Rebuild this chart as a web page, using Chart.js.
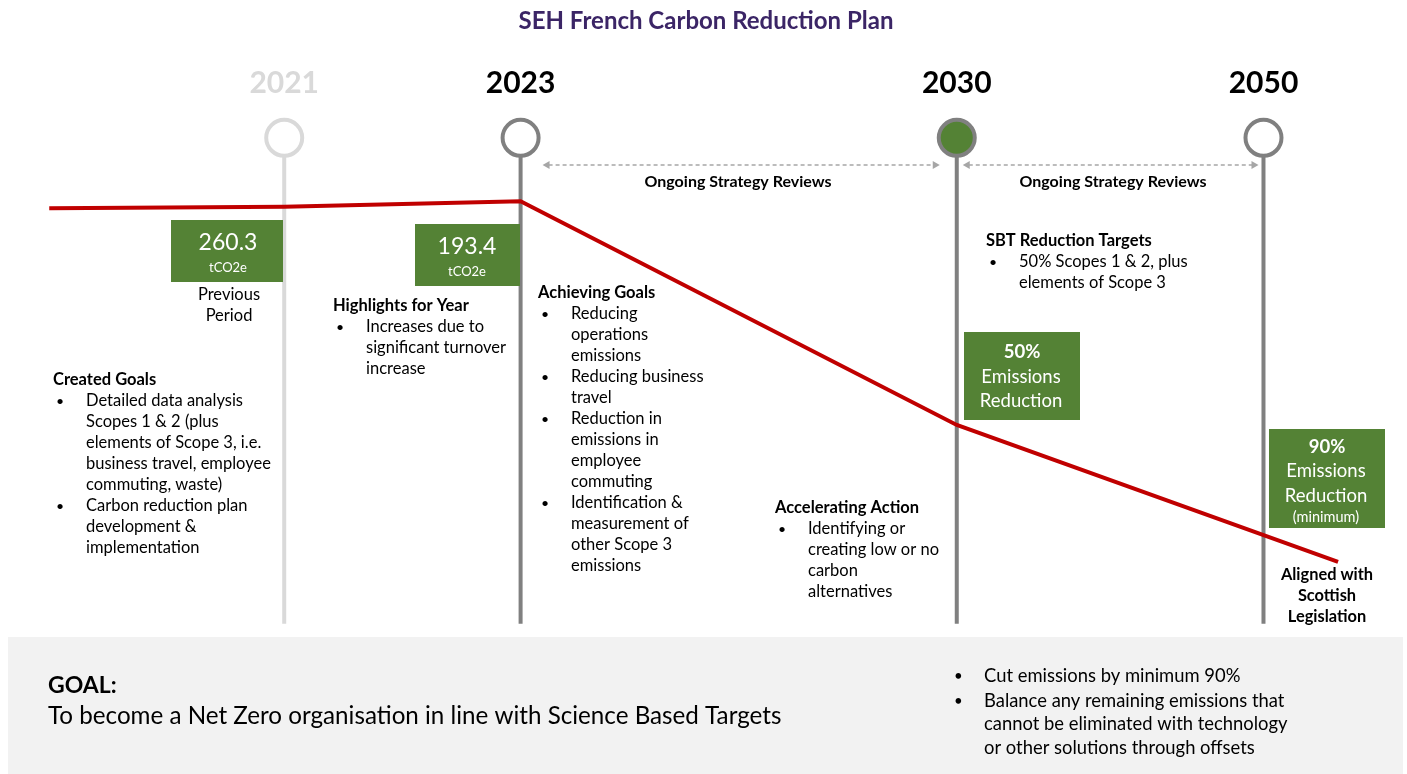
<!DOCTYPE html>
<html>
<head>
<meta charset="utf-8">
<title>SEH French Carbon Reduction Plan</title>
<script src="https://cdn.jsdelivr.net/npm/chart.js@4.4.0/dist/chart.umd.min.js"></script>
<style>
    html, body { margin: 0; padding: 0; background: #fff; overflow: hidden; }
    canvas { display: block; }
</style>
</head>
<body>
<canvas id="planChart" width="1407" height="774"></canvas>
<script>
// Milestones along the timeline (x = position on a 0-100 timeline scale)
const years = ['2021', '2023', '2030', '2050'];
const yearPos = [20.2, 37.0, 68.0, 89.8];
const yearLabelColor = ['#d9d9d9', '#000000', '#000000', '#000000'];
const yearLineColor = ['#d9d9d9', '#808080', '#808080', '#808080'];
const yearFill = ['#ffffff', '#ffffff', '#548235', '#ffffff'];
const markerLevel = 82.2;   // where the milestone circles sit
const stemBottom = 19.4;    // where the milestone stems end

// Emissions path (relative index)
const pathPos = [3.5, 20.2, 37.0, 68.0, 95.1];
const pathLevel = [73.1, 73.3, 74.0, 45.1, 27.4];

// Emission figures
const emissionValues = ['260.3', '193.4'];
const emissionUnit = 'tCO2e';
const reductionTargets = ['50%', '90%'];

const FONT = 'Lato, "Open Sans", sans-serif';
const BODY = 16.5;

function txt(ctx, s, x, y, size, opts = {}) {
    ctx.font = (opts.bold ? 'bold ' : '') + size + 'px ' + FONT;
    ctx.fillStyle = opts.color || '#000';
    ctx.textAlign = opts.align || 'left';
    ctx.textBaseline = 'middle';
    ctx.fillText(s, x, y);
}

// heading + bullet list block
function block(ctx, x, y, head, bullets, step) {
    let cy = y;
    if (head) {
        txt(ctx, head, x, cy, BODY, { bold: true });
        cy += step;
    }
    bullets.forEach(lines => {
        txt(ctx, '•', x + 3, cy, 14);
        lines.forEach(line => {
            txt(ctx, line, x + 33, cy, BODY);
            cy += step;
        });
    });
}

function greenBox(ctx, x, y, w, h) {
    ctx.fillStyle = '#548235';
    ctx.fillRect(x, y, w, h);
}

function arrow(ctx, x1, x2, y) {
    ctx.save();
    ctx.strokeStyle = '#a6a6a6';
    ctx.fillStyle = '#a6a6a6';
    ctx.lineWidth = 1.3;
    ctx.setLineDash([4, 3]);
    ctx.beginPath();
    ctx.moveTo(x1 + 6, y);
    ctx.lineTo(x2 - 6, y);
    ctx.stroke();
    ctx.setLineDash([]);
    [[x1, 1], [x2, -1]].forEach(([x, d]) => {
        ctx.beginPath();
        ctx.moveTo(x, y);
        ctx.lineTo(x + 7 * d, y - 4);
        ctx.lineTo(x + 7 * d, y + 4);
        ctx.closePath();
        ctx.fill();
    });
    ctx.restore();
}

const decorPlugin = {
    id: 'decor',
    beforeDatasetsDraw(chart) {
        const ctx = chart.ctx;
        // goal panel behind everything
        ctx.fillStyle = '#f2f2f2';
        ctx.fillRect(8, 637, 1395, 137);
    },
    afterDatasetsDraw(chart) {
        const ctx = chart.ctx;
        const xs = chart.scales.x;
        const px = yearPos.map(p => xs.getPixelForValue(p));

        // title
        txt(ctx, 'SEH French Carbon Reduction Plan', 706, 21, 24, { bold: true, color: '#3b2566', align: 'center' });

        // year labels
        years.forEach((y, i) => {
            txt(ctx, y, px[i], 83, 30, { bold: true, color: yearLabelColor[i], align: 'center' });
        });

        // strategy review arrows
        arrow(ctx, px[1] + 22, px[2] - 17, 165);
        arrow(ctx, px[2] + 6, px[3] - 5, 165);
        txt(ctx, 'Ongoing Strategy Reviews', 738, 182, 16, { bold: true, align: 'center' });
        txt(ctx, 'Ongoing Strategy Reviews', 1113, 182, 16, { bold: true, align: 'center' });

        // emission figures
        greenBox(ctx, 171, 220, 112, 62);
        txt(ctx, emissionValues[0], 228, 243, 23, { color: '#fff', align: 'center' });
        txt(ctx, emissionUnit, 228, 268, 13, { color: '#fff', align: 'center' });
        greenBox(ctx, 415, 224, 105, 62);
        txt(ctx, emissionValues[1], 467, 247, 23, { color: '#fff', align: 'center' });
        txt(ctx, emissionUnit, 467, 272, 13, { color: '#fff', align: 'center' });

        txt(ctx, 'Previous', 229, 295, BODY, { align: 'center' });
        txt(ctx, 'Period', 229, 316, BODY, { align: 'center' });

        // text blocks
        block(ctx, 333, 306, 'Highlights for Year',
            [['Increases due to', 'significant turnover', 'increase']], 21);
        block(ctx, 53, 380, 'Created Goals', [
            ['Detailed data analysis', 'Scopes 1 & 2 (plus', 'elements of Scope 3, i.e.', 'business travel, employee', 'commuting, waste)'],
            ['Carbon reduction plan', 'development &', 'implementation']
        ], 21);
        block(ctx, 538, 293, 'Achieving Goals', [
            ['Reducing', 'operations', 'emissions'],
            ['Reducing business', 'travel'],
            ['Reduction in', 'emissions in', 'employee', 'commuting'],
            ['Identification &', 'measurement of', 'other Scope 3', 'emissions']
        ], 21);
        block(ctx, 775, 508, 'Accelerating Action',
            [['Identifying or', 'creating low or no', 'carbon', 'alternatives']], 21);
        block(ctx, 986, 241, 'SBT Reduction Targets',
            [['50% Scopes 1 & 2, plus', 'elements of Scope 3']], 21);

        // reduction target boxes
        greenBox(ctx, 964, 332, 116, 88);
        txt(ctx, reductionTargets[0], 1022, 352, 18.5, { bold: true, color: '#fff', align: 'center' });
        txt(ctx, 'Emissions', 1021, 377, 18.5, { color: '#fff', align: 'center' });
        txt(ctx, 'Reduction', 1021, 401, 18.5, { color: '#fff', align: 'center' });

        greenBox(ctx, 1269, 429, 116, 99);
        txt(ctx, reductionTargets[1], 1327, 447, 18.5, { bold: true, color: '#fff', align: 'center' });
        txt(ctx, 'Emissions', 1326, 471, 18.5, { color: '#fff', align: 'center' });
        txt(ctx, 'Reduction', 1326, 496, 18.5, { color: '#fff', align: 'center' });
        txt(ctx, '(minimum)', 1326, 517, 14.5, { color: '#fff', align: 'center' });

        txt(ctx, 'Aligned with', 1327, 575, 16.4, { bold: true, align: 'center' });
        txt(ctx, 'Scottish', 1327, 596, 16.4, { bold: true, align: 'center' });
        txt(ctx, 'Legislation', 1327, 617, 16.4, { bold: true, align: 'center' });

        // goal panel text
        txt(ctx, 'GOAL:', 48, 686, 23, { bold: true });
        txt(ctx, 'To become a Net Zero organisation in line with Science Based Targets', 48, 716, 24.2);
        txt(ctx, '•', 954, 676, 15);
        txt(ctx, 'Cut emissions by minimum 90%', 984, 676, 18.4);
        txt(ctx, '•', 954, 701, 15);
        txt(ctx, 'Balance any remaining emissions that', 984, 701, 18.4);
        txt(ctx, 'cannot be eliminated with technology', 984, 724, 18.4);
        txt(ctx, 'or other solutions through offsets', 984, 748, 18.4);
    }
};

// milestone stems, one dataset each
const stemSets = years.map((y, i) => ({
    label: y + ' stem',
    data: [{ x: yearPos[i], y: markerLevel }, { x: yearPos[i], y: stemBottom }],
    borderColor: yearLineColor[i],
    borderWidth: 4,
    pointRadius: 0,
    order: 3
}));

const ctx = document.getElementById('planChart').getContext('2d');
const planChart = new Chart(ctx, {
    type: 'line',
    data: {
        datasets: [
            {
                label: 'Milestones',
                data: yearPos.map(p => ({ x: p, y: markerLevel })),
                showLine: false,
                pointRadius: 18,
                pointBorderWidth: 4,
                pointBorderColor: yearLineColor,
                pointBackgroundColor: yearFill,
                order: 1
            },
            {
                label: 'Emissions path',
                data: pathPos.map((p, i) => ({ x: p, y: pathLevel[i] })),
                borderColor: '#c00000',
                borderWidth: 4,
                pointRadius: 0,
                tension: 0,
                order: 2
            },
            ...stemSets
        ]
    },
    options: {
        responsive: false,
        animation: false,
        devicePixelRatio: 1,
        events: [],
        layout: { padding: 0, autoPadding: false },
        plugins: {
            legend: { display: false },
            tooltip: { enabled: false }
        },
        scales: {
            x: { type: 'linear', min: 0, max: 100, display: false },
            y: { type: 'linear', min: 0, max: 100, display: false }
        }
    },
    plugins: [decorPlugin]
});
</script>
</body>
</html>
